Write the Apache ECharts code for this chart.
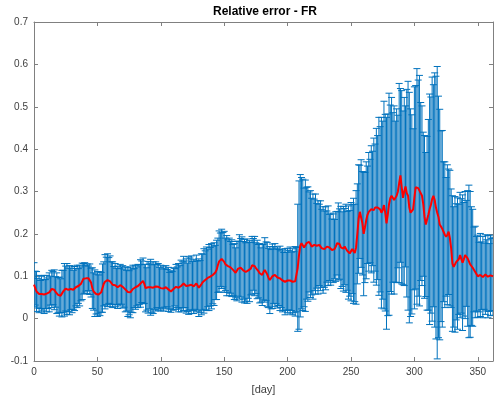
<!DOCTYPE html>
<html>
<head>
<meta charset="utf-8">
<script src="https://cdn.jsdelivr.net/npm/echarts@6/dist/echarts.min.js"></script>
<style>html,body{margin:0;padding:0;background:#fff}#c{width:496px;height:401px}</style>
</head>
<body>
<div id="c"></div>
<script>
const titleText = 'Relative error - FR';
const xName = '[day]';
const xTicks = [0, 50, 100, 150, 200, 250, 300, 350];
const yTicks = [-0.1, 0, 0.1, 0.2, 0.3, 0.4, 0.5, 0.6, 0.7];

const meanVals = [
0.080,0.072,0.064,0.060,0.058,0.057,0.058,0.056,0.057,0.058,
0.059,0.060,0.062,0.066,0.070,0.072,0.068,0.063,0.060,0.056,
0.052,0.054,0.059,0.064,0.068,0.071,0.070,0.068,0.067,0.070,
0.069,0.068,0.071,0.074,0.076,0.077,0.078,0.082,0.088,0.094,
0.096,0.095,0.094,0.095,0.093,0.085,0.072,0.064,0.060,0.058,
0.058,0.057,0.059,0.062,0.072,0.082,0.087,0.089,0.091,0.090,
0.088,0.084,0.080,0.078,0.079,0.076,0.074,0.076,0.079,0.078,
0.075,0.072,0.069,0.066,0.063,0.061,0.062,0.066,0.070,0.072,
0.074,0.076,0.077,0.080,0.083,0.087,0.089,0.082,0.072,0.070,
0.074,0.077,0.074,0.071,0.073,0.075,0.076,0.077,0.075,0.072,
0.072,0.071,0.071,0.073,0.074,0.072,0.069,0.066,0.064,0.066,
0.070,0.074,0.075,0.074,0.073,0.074,0.077,0.080,0.083,0.081,
0.077,0.074,0.078,0.082,0.080,0.077,0.076,0.079,0.083,0.078,
0.073,0.076,0.081,0.086,0.089,0.091,0.094,0.096,0.097,0.099,
0.100,0.103,0.105,0.109,0.115,0.126,0.135,0.139,0.141,0.139,
0.134,0.128,0.125,0.124,0.122,0.121,0.119,0.115,0.111,0.108,
0.112,0.118,0.122,0.120,0.116,0.114,0.112,0.110,0.112,0.114,
0.112,0.118,0.126,0.128,0.124,0.119,0.116,0.112,0.107,0.103,
0.103,0.110,0.115,0.112,0.104,0.096,0.091,0.093,0.100,0.103,
0.103,0.100,0.097,0.097,0.095,0.093,0.090,0.088,0.087,0.088,
0.090,0.091,0.090,0.088,0.087,0.086,0.088,0.092,0.120,0.150,
0.172,0.178,0.174,0.168,0.172,0.178,0.176,0.181,0.176,0.170,
0.170,0.174,0.176,0.172,0.168,0.174,0.172,0.166,0.162,0.164,
0.166,0.170,0.172,0.168,0.164,0.162,0.166,0.164,0.170,0.178,
0.182,0.176,0.168,0.164,0.165,0.170,0.166,0.160,0.156,0.154,
0.158,0.164,0.160,0.155,0.168,0.200,0.235,0.252,0.248,0.225,
0.200,0.215,0.232,0.245,0.252,0.254,0.258,0.260,0.256,0.262,
0.264,0.262,0.265,0.258,0.250,0.256,0.268,0.250,0.225,0.245,
0.270,0.284,0.290,0.286,0.280,0.276,0.290,0.300,0.320,0.338,
0.310,0.285,0.300,0.312,0.296,0.290,0.262,0.250,0.246,0.258,
0.285,0.310,0.312,0.308,0.302,0.300,0.290,0.270,0.240,0.222,
0.225,0.245,0.258,0.268,0.282,0.290,0.280,0.262,0.250,0.240,
0.222,0.218,0.212,0.205,0.198,0.193,0.198,0.205,0.190,0.166,
0.130,0.122,0.128,0.134,0.130,0.140,0.150,0.148,0.132,0.140,
0.150,0.154,0.142,0.135,0.128,0.124,0.120,0.116,0.110,0.106,
0.100,0.098,0.103,0.101,0.098,0.100,0.104,0.102,0.099,0.097,0.102,0.104,0.100
];

const errVals = [
0.052,0.040,0.047,0.035,0.044,0.033,0.042,0.036,0.045,0.034,
0.043,0.036,0.046,0.034,0.044,0.039,0.047,0.036,0.048,0.041,
0.046,0.040,0.055,0.050,0.062,0.053,0.060,0.051,0.058,0.049,
0.055,0.046,0.052,0.044,0.050,0.041,0.048,0.040,0.043,0.036,
0.036,0.030,0.035,0.029,0.036,0.034,0.048,0.044,0.055,0.047,
0.053,0.046,0.052,0.047,0.057,0.052,0.064,0.056,0.062,0.054,
0.060,0.050,0.054,0.045,0.051,0.043,0.050,0.042,0.049,0.044,
0.050,0.045,0.053,0.048,0.058,0.052,0.060,0.051,0.056,0.046,
0.052,0.046,0.051,0.047,0.056,0.049,0.054,0.046,0.056,0.050,
0.061,0.054,0.066,0.056,0.061,0.053,0.058,0.051,0.055,0.049,
0.054,0.046,0.053,0.046,0.051,0.044,0.052,0.043,0.049,0.045,
0.050,0.044,0.053,0.048,0.057,0.051,0.061,0.054,0.064,0.055,
0.064,0.057,0.068,0.061,0.068,0.058,0.064,0.057,0.067,0.058,
0.068,0.061,0.072,0.066,0.076,0.069,0.075,0.068,0.078,0.069,
0.077,0.068,0.074,0.064,0.070,0.064,0.072,0.063,0.070,0.064,
0.072,0.062,0.071,0.062,0.068,0.061,0.067,0.060,0.066,0.059,
0.070,0.065,0.076,0.069,0.077,0.068,0.075,0.069,0.076,0.066,
0.072,0.062,0.068,0.061,0.070,0.060,0.069,0.063,0.070,0.064,
0.072,0.066,0.076,0.069,0.076,0.070,0.079,0.070,0.076,0.067,
0.074,0.065,0.072,0.066,0.076,0.067,0.074,0.068,0.078,0.069,
0.076,0.070,0.079,0.069,0.078,0.072,0.082,0.076,0.150,0.175,
0.168,0.155,0.155,0.140,0.155,0.132,0.135,0.118,0.126,0.114,
0.124,0.108,0.118,0.100,0.110,0.096,0.106,0.092,0.102,0.090,
0.098,0.084,0.094,0.078,0.085,0.073,0.081,0.070,0.082,0.075,
0.091,0.083,0.097,0.088,0.100,0.090,0.104,0.093,0.110,0.101,
0.116,0.105,0.124,0.115,0.134,0.118,0.128,0.110,0.127,0.122,
0.146,0.130,0.138,0.115,0.140,0.122,0.150,0.135,0.170,0.150,
0.185,0.170,0.210,0.195,0.225,0.210,0.245,0.232,0.250,0.238,
0.262,0.220,0.232,0.200,0.222,0.190,0.205,0.180,0.235,0.205,
0.228,0.205,0.222,0.190,0.245,0.270,0.272,0.245,0.235,0.190,
0.262,0.240,0.278,0.255,0.272,0.210,0.212,0.170,0.192,0.170,
0.205,0.225,0.272,0.255,0.288,0.262,0.300,0.310,0.345,0.285,
0.272,0.225,0.232,0.165,0.172,0.140,0.165,0.148,0.160,0.140,
0.160,0.142,0.160,0.137,0.155,0.130,0.148,0.135,0.160,0.134,
0.150,0.125,0.160,0.180,0.172,0.140,0.138,0.100,0.108,0.088,
0.097,0.082,0.098,0.080,0.096,0.078,0.094,0.084,0.097,0.080,0.095,0.085,0.092
];

const days = meanVals.map((_, i) => i);
const barData = days.map(d => [d, meanVals[d] - errVals[d], meanVals[d] + errVals[d]]);
const lineData = days.map(d => [d, meanVals[d]]);

const axisColor = '#808080';
const textColor = '#404040';
const font = 'Liberation Sans, Arial, Helvetica, sans-serif';
const xMin = xTicks[0], xMax = 362, xStep = xTicks[1] - xTicks[0];
const yMin = yTicks[0], yMax = yTicks[yTicks.length - 1], yStep = 0.1;

const chart = echarts.init(document.getElementById('c'), null, {renderer: 'canvas'});
chart.setOption({
  animation: false,
  backgroundColor: '#fff',
  graphic: [{
    type: 'text', left: 213, top: 6,
    style: {text: titleText, font: 'bold 12px ' + font, fill: '#000'}
  }],
  grid: {left: 34, right: 1, top: 22, bottom: 40},
  xAxis: [{
    type: 'value', min: xMin, max: xMax, interval: xStep,
    name: xName, nameLocation: 'middle', nameGap: 23,
    nameTextStyle: {color: textColor, fontSize: 11, fontFamily: font},
    axisLine: {show: true, onZero: false, lineStyle: {color: axisColor, width: 1}},
    axisTick: {show: true, inside: true, length: 4, lineStyle: {color: axisColor}},
    axisLabel: {color: textColor, fontSize: 10, fontFamily: font, margin: 6,
      formatter: v => (xTicks.indexOf(v) >= 0 ? String(v) : '')},
    splitLine: {show: false}
  }, {
    type: 'value', position: 'top', min: xMin, max: xMax, interval: xStep,
    axisLine: {show: true, onZero: false, lineStyle: {color: axisColor, width: 1}},
    axisTick: {show: true, inside: true, length: 4, lineStyle: {color: axisColor}},
    axisLabel: {show: false}, splitLine: {show: false}
  }],
  yAxis: [{
    type: 'value', min: yMin, max: yMax, interval: yStep,
    axisLine: {show: true, onZero: false, lineStyle: {color: axisColor, width: 1}},
    axisTick: {show: true, inside: true, length: 4, lineStyle: {color: axisColor}},
    axisLabel: {color: textColor, fontSize: 10, fontFamily: font, margin: 6,
      formatter: v => { const r = Math.round(v * 10) / 10; return String(r); }},
    splitLine: {show: false}
  }, {
    type: 'value', position: 'right', min: yMin, max: yMax, interval: yStep,
    axisLine: {show: true, onZero: false, lineStyle: {color: axisColor, width: 1}},
    axisTick: {show: true, inside: true, length: 4, lineStyle: {color: axisColor}},
    axisLabel: {show: false}, splitLine: {show: false}
  }],
  series: [{
    type: 'custom',
    xAxisIndex: 0, yAxisIndex: 0,
    clip: true,
    data: barData,
    encode: {x: 0, y: [1, 2]},
    renderItem: function (params, api) {
      const x = api.value(0);
      const top = api.coord([x, api.value(2)]);
      const bot = api.coord([x, api.value(1)]);
      const cap = 3.5;
      const st = {stroke: '#0072BD', lineWidth: 1};
      return {
        type: 'group',
        children: [
          {type: 'line', shape: {x1: top[0], y1: top[1], x2: bot[0], y2: bot[1]}, style: st},
          {type: 'line', shape: {x1: top[0] - cap, y1: top[1], x2: top[0] + cap, y2: top[1]}, style: st},
          {type: 'line', shape: {x1: bot[0] - cap, y1: bot[1], x2: bot[0] + cap, y2: bot[1]}, style: st}
        ]
      };
    },
    z: 2
  }, {
    type: 'line',
    xAxisIndex: 0, yAxisIndex: 0,
    data: lineData,
    showSymbol: false,
    symbol: 'none',
    lineStyle: {color: '#ff0000', width: 2},
    z: 3
  }]
});
</script>
</body>
</html>
